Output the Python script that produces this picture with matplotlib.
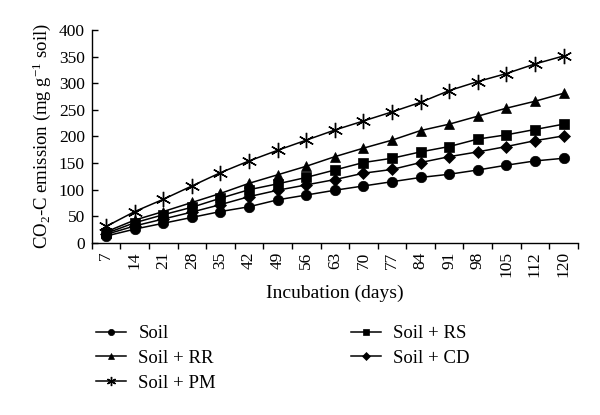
import matplotlib
matplotlib.use("Agg")
import matplotlib.pyplot as plt
import numpy as np

plt.rcParams['font.family'] = ['Liberation Serif', 'DejaVu Serif']
plt.rcParams['mathtext.fontset'] = 'custom'
plt.rcParams['mathtext.rm'] = 'Liberation Serif'
plt.rcParams['mathtext.it'] = 'Liberation Serif:italic'
plt.rcParams['mathtext.bf'] = 'Liberation Serif:bold'

days = ['7', '14', '21', '28', '35', '42', '49', '56', '63', '70', '77', '84',
        '91', '98', '105', '112', '120']
soil = [13, 26, 37, 48, 59, 68, 81, 90, 99, 107, 115, 123, 129, 137, 146, 154, 159]
soil_rr = [21, 43, 59, 76, 93, 112, 128, 144, 162, 178, 193, 211, 223, 238, 253, 266, 281]
soil_pm = [31, 59, 82, 107, 132, 154, 174, 193, 212, 229, 246, 264, 286, 303, 318, 336, 351]
soil_rs = [18, 38, 53, 67, 84, 100, 111, 123, 137, 151, 159, 171, 181, 195, 203, 213, 223]
soil_cd = [16, 32, 45, 58, 72, 87, 99, 109, 119, 131, 138, 151, 162, 171, 181, 192, 201]

fig = plt.figure(figsize=(6.0, 4.15), dpi=100)
ax = fig.add_axes([0.153, 0.4145, 0.81, 0.5135])

x = np.arange(len(days))
star = (6, 2, 0)
series = [
    ('Soil', soil, 'o', 7.5),
    ('Soil + RR', soil_rr, '^', 7.5),
    ('Soil + PM', soil_pm, star, 11),
    ('Soil + RS', soil_rs, 's', 6.5),
    ('Soil + CD', soil_cd, 'D', 6.5),
]
handles = []
for label, vals, m, ms in series:
    ax.plot(x, vals, color='black', lw=1.1, marker=m, markersize=ms,
            markeredgewidth=1.0 if m == star else 0.5, label=label)
    h, = ax.plot([], [], color='black', lw=1.1, marker=m,
                 markersize=ms * 0.6, markeredgewidth=1.0 if m == star else 0.5,
                 label=label)
    handles.append(h)

ax.set_xlim(-0.5, len(days) - 0.5)
ax.set_ylim(0, 400)
ax.set_yticks(np.arange(0, 401, 50))
ax.set_xticks(x)
ax.set_xticklabels(days, rotation=90, fontsize=12.5)
ax.set_xticks(np.arange(-0.5, len(days) + 0.5, 1), minor=True)
ax.tick_params(axis='x', which='major', length=0, pad=6)
ax.tick_params(axis='x', which='minor', length=4, direction='out', width=1)
ax.tick_params(axis='y', which='major', length=4, direction='in', width=1,
               labelsize=12.5, pad=5)
for s in ['top', 'right']:
    ax.spines[s].set_visible(False)
for s in ['left', 'bottom']:
    ax.spines[s].set_linewidth(1.0)

ax.set_xlabel('Incubation (days)', fontsize=14, labelpad=5)
ax.set_ylabel('CO$_2$-C emission (mg g$^{-1}$ soil)', fontsize=13.5, labelpad=4)

fig.legend(handles=handles, labels=[s[0] for s in series], ncol=2,
           loc='upper left', bbox_to_anchor=(0.132, 0.257), frameon=False,
           fontsize=13.5, handlelength=1.6, handletextpad=0.65,
           columnspacing=7.2, labelspacing=0.4)

fig.savefig('out.png', dpi=100)
